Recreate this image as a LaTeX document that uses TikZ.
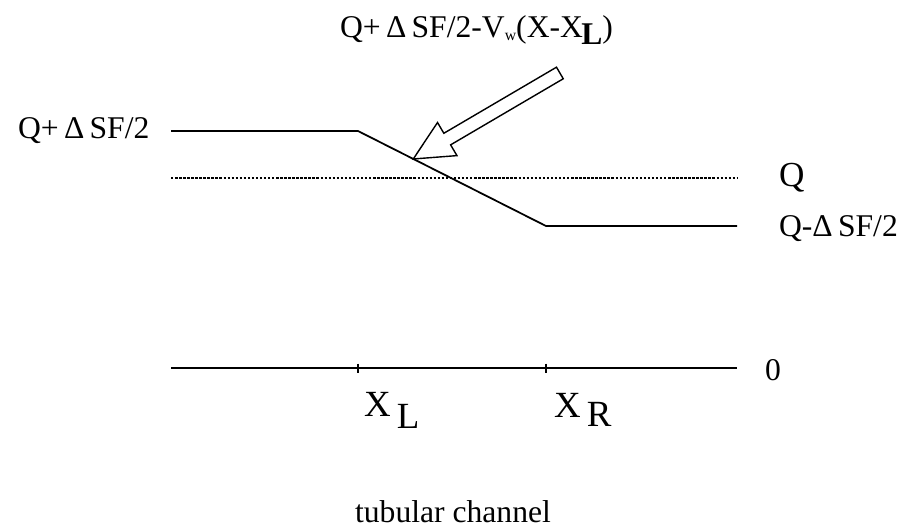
\documentclass[tikz,border=0pt]{standalone}
\usepackage{fontspec}
\setmainfont{Liberation Serif}
\usetikzlibrary{shapes.arrows, positioning}

\begin{document}
\begin{tikzpicture}[
    x=0.02cm, y=-0.02cm,
    every node/.style={font=\fontsize{18}{21}\selectfont, inner sep=1pt},
    axislabel/.style={anchor=west, font=\fontsize{21}{24}\selectfont},
    level/.style={line width=1pt, line join=miter},
    mean/.style={line width=0.8pt, dash pattern=on 1.4pt off 0.9pt},
    tick/.style={line width=0.9pt},
    hollow/.style={single arrow, draw, fill=white, line width=0.8pt, minimum height=3.4cm, inner sep=0.12cm, single arrow head extend=0.25cm, single arrow tip angle=52, rotate=210.4}
]
\useasboundingbox (0,0) rectangle (903,531);

\coordinate (hiA) at (171,131);
\coordinate (xl) at (358,131);
\coordinate (xr) at (546,226);
\coordinate (loB) at (737,226);
\coordinate (qA) at (171,178);
\coordinate (qB) at (737,178);
\coordinate (zA) at (171,368);
\coordinate (zB) at (737,368);
\coordinate (tl) at (358,368);
\coordinate (tr) at (546,368);

\draw[level] (hiA) -- (xl) -- (xr) -- (loB);
\draw[mean] (qA) -- (qB);
\draw[level] (zA) -- (zB);
\draw[tick] ([yshift=0.09cm]tl) -- ([yshift=-0.09cm]tl);
\draw[tick] ([yshift=0.09cm]tr) -- ([yshift=-0.09cm]tr);

\node[anchor=west] (hilabel) at (16,131) {Q+\,Δ\,SF/2};
\node[anchor=west, font=\fontsize{20}{23}\selectfont] (qlabel) at (777,178) {Q};
\node[anchor=west] (lolabel) at (777,229) {Q-Δ\,SF/2};
\node[anchor=west] (zlabel) at (763,370) {0};
\node[axislabel] (xllabel) at (362,410) {X\,\raisebox{-0.7ex}{L}};
\node[axislabel] (xrlabel) at (552,410) {X\,\raisebox{-0.5ex}{R}};
\node (chan) at (453,512) {tubular channel};
\node[anchor=west] (slope) at (338,30) {Q+\,Δ\,SF/2-V\raisebox{-0.2ex}{\fontsize{9}{10}\selectfont w}(X-X\kern-0.05em\raisebox{-0.5ex}{\textbf{L}})};

\node[hollow] (pointer) at (492.5,112.5) {};
\end{tikzpicture}
\end{document}
